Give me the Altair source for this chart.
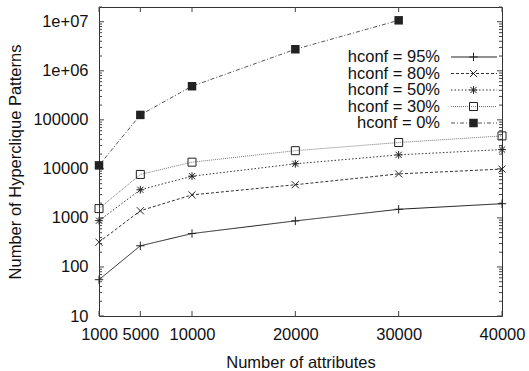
import altair as alt
import pandas as pd

# Number of attributes (x) and hyperclique pattern counts per hconf threshold
attributes = [1000, 5000, 10000, 20000, 30000, 40000]
hconf_95 = [55, 270, 480, 870, 1500, 1950]
hconf_80 = [320, 1400, 2950, 4750, 7900, 9900]
hconf_50 = [880, 3750, 7100, 12700, 19300, 24800]
hconf_30 = [1550, 7700, 13700, 23500, 34500, 47000]
hconf_0 = [11800, 126000, 485000, 2750000, 10700000]

series_labels = ["hconf = 95%", "hconf = 80%", "hconf = 50%", "hconf = 30%", "hconf = 0%"]
series_values = [hconf_95, hconf_80, hconf_50, hconf_30, hconf_0]

x_ticks = [1000, 5000, 10000, 20000, 30000, 40000]
y_ticks = [10, 100, 1000, 10000, 100000, 1000000, 10000000]
y_minor = [k * 10 ** d for d in range(1, 8) for k in range(2, 10) if k * 10 ** d <= 2e7]

W, H = 403, 309
FONT = "Liberation Sans"
FS = 16.5
INK = "#222222"
TEXT = "#111111"

PLUS = "M-1,0L1,0M0,-1L0,1"
CROSS = "M-1,-1L1,1M-1,1L1,-1"
STAR = "M-1,0L1,0M0,-1L0,1M-0.8,-0.8L0.8,0.8M-0.8,0.8L0.8,-0.8"

# line dash, marker shape, marker fill, marker size, line colour
styles = [
    dict(dash=[1, 0], shape=PLUS, filled=False, size=70, color="#222222"),
    dict(dash=[3, 2], shape=CROSS, filled=False, size=50, color="#333333"),
    dict(dash=[1.5, 2], shape=STAR, filled=False, size=60, color="#333333"),
    dict(dash=[1, 1], shape="square", filled=False, size=64, color="#777777"),
    dict(dash=[4, 2, 1, 2], shape="square", filled=True, size=72, color="#555555"),
]

x_scale = alt.Scale(domain=[1000, 40000], nice=False, zero=False)
y_scale = alt.Scale(type="log", domain=[10, 2e7], nice=False)

layers = []

# Layer carrying the axis labels and titles (ticks are drawn inward below)
axis_df = pd.DataFrame({"x": attributes, "y": hconf_95})
base_axes = alt.Chart(axis_df).mark_point(opacity=0).encode(
    x=alt.X("x:Q", scale=x_scale,
            axis=alt.Axis(values=x_ticks, format="d", title="Number of attributes", ticks=False,
                          labelPadding=10, grid=False, domain=False,
                          labelFontSize=FS, labelFont=FONT, labelColor=TEXT,
                          titleFontSize=FS, titleFont=FONT, titleFontWeight="normal",
                          titleColor=TEXT, titlePadding=12, labelOverlap=False,
                          labelFlush=False)),
    y=alt.Y("y:Q", scale=y_scale,
            axis=alt.Axis(values=y_ticks, title="Number of Hyperclique Patterns", ticks=False,
                          labelPadding=11, grid=False, domain=False,
                          labelFontSize=FS, labelFont=FONT, labelColor=TEXT,
                          labelExpr="datum.value >= 1000000 ? '1e+0' + round(log(datum.value) / LN10) : format(datum.value, 'd')",
                          titleFontSize=FS, titleFont=FONT, titleFontWeight="normal",
                          titleColor=TEXT, titlePadding=9, labelOverlap=False)),
)
layers.append(base_axes)

# Inward tick marks on all four sides
xt = pd.DataFrame({"t": x_ticks})
ymaj = pd.DataFrame({"t": y_ticks})
ymin = pd.DataFrame({"t": y_minor})
tick_color = "#444444"
for y0, y1 in [(H - 5, H), (0, 5)]:
    layers.append(alt.Chart(xt).mark_rule(color=tick_color, strokeWidth=1).encode(
        x=alt.X("t:Q", scale=x_scale, axis=None), y=alt.value(y0), y2=alt.value(y1)))
for df, ln in [(ymaj, 5), (ymin, 3)]:
    for x0, x1 in [(0, ln), (W - ln, W)]:
        layers.append(alt.Chart(df).mark_rule(color=tick_color, strokeWidth=1).encode(
            y=alt.Y("t:Q", scale=y_scale, axis=None), x=alt.value(x0), x2=alt.value(x1)))

# Data series: lines and markers
for label, vals, st in zip(series_labels, series_values, styles):
    df = pd.DataFrame({"x": attributes[:len(vals)], "y": vals})
    enc = dict(x=alt.X("x:Q", scale=x_scale, axis=None),
               y=alt.Y("y:Q", scale=y_scale, axis=None))
    layers.append(alt.Chart(df).mark_line(color=st["color"], strokeWidth=1,
                                          strokeDash=st["dash"]).encode(**enc))
    layers.append(alt.Chart(df).mark_point(shape=st["shape"], filled=st["filled"],
                                           size=st["size"], color=INK, strokeWidth=1,
                                           opacity=1).encode(**enc))

# Key in the upper right: label, line sample, marker
one = pd.DataFrame({"k": [0]})
for i, (label, st) in enumerate(zip(series_labels, styles)):
    ly = 50 + i * 16.5
    layers.append(alt.Chart(one).mark_text(align="right", baseline="middle", fontSize=FS,
                                           font=FONT, fontWeight="normal",
                                           color=TEXT).encode(
        x=alt.value(341), y=alt.value(ly), text=alt.value(label)))
    layers.append(alt.Chart(one).mark_rule(color=st["color"], strokeWidth=1,
                                           strokeDash=st["dash"]).encode(
        x=alt.value(352), x2=alt.value(398), y=alt.value(ly)))
    layers.append(alt.Chart(one).mark_point(shape=st["shape"], filled=st["filled"],
                                            size=st["size"], color=INK, strokeWidth=1,
                                            opacity=1).encode(
        x=alt.value(374.5), y=alt.value(ly)))

chart = alt.layer(*layers).resolve_axis(x="independent", y="independent").properties(
    width=W, height=H,
    background="white",
    autosize=alt.AutoSizeParams(type="none"),
    padding={"left": 99, "top": 7, "right": 27, "bottom": 55},
).configure_view(stroke="#333333", strokeWidth=1)

chart.save("out.html", embed_options={"renderer": "svg", "actions": False})
